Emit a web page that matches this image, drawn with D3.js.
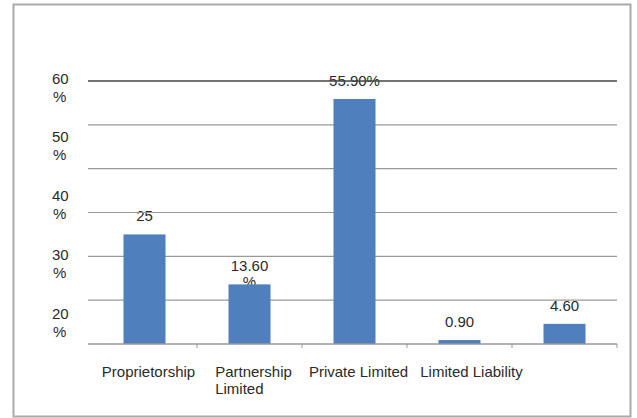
<!DOCTYPE html>
<html>
<head>
<meta charset="utf-8">
<script src="https://cdn.jsdelivr.net/npm/d3@7"></script>
<style>
  body { margin: 0; background: #fff; }
  svg text { font-family: "Liberation Sans", Arial, sans-serif; fill: #2a2a2a; }
</style>
</head>
<body>
<svg id="chart" width="637" height="418"></svg>
<script>
// chart data
var categories = ["Proprietorship", "Partnership Limited", "Private Limited", "Limited Liability", ""];
var categoryLines = [["Proprietorship"], ["Partnership", "Limited"], ["Private Limited"], ["Limited Liability"], [""]];
var values = [25, 13.6, 55.9, 0.9, 4.6];
var valueLabels = [["25"], ["13.60", "%"], ["55.90%"], ["0.90"], ["4.60"]];
var gridTicks = [0, 10, 20, 30, 40, 50, 60];
var yTickLabels = ["60", "50", "40", "30", "20"];

var svg = d3.select("#chart");

// outer frame
svg.append("rect")
  .attr("x", 13.5).attr("y", 4.5)
  .attr("width", 617).attr("height", 412)
  .attr("fill", "#fff")
  .attr("stroke", "#aaa")
  .attr("stroke-width", 2);

var x = d3.scaleBand()
  .domain(categories)
  .range([92, 617])
  .paddingInner(0.6)
  .paddingOuter(0.3);

var y = d3.scaleLinear()
  .domain([0, 60])
  .range([344, 81]);

// the y labels don't sit on the gridlines in the original, they're spread on their own
var yLab = d3.scalePoint()
  .domain(yTickLabels)
  .range([78, 313]);

var fs = 15;

// y labels, wrapped as "60" / "%"
var yl = svg.append("g").selectAll("text")
  .data(yTickLabels)
  .enter().append("text")
  .attr("x", 52)
  .attr("y", function(d){ return yLab(d) + 5.5; })
  .attr("font-size", fs);
yl.append("tspan").attr("x", 52).text(function(d){ return d; });
yl.append("tspan").attr("x", 53).attr("dy", 18).text("%");

// value labels (drawn before grid + bars, bars cover the "%" like the original)
var vl = svg.append("g").selectAll("text")
  .data(values)
  .enter().append("text")
  .attr("text-anchor", "middle")
  .attr("font-size", fs)
  .attr("y", function(d){ return y(d) - 13; });
vl.each(function(d, i){
  var t = d3.select(this);
  var cx = x(categories[i]) + x.bandwidth() / 2;
  valueLabels[i].forEach(function(line, j){
    t.append("tspan").attr("x", cx).attr("dy", j ? 16 : 0).text(line);
  });
});

// gridlines
svg.append("g").selectAll("line")
  .data(gridTicks.filter(function(d){ return d > 0; }))
  .enter().append("line")
  .attr("x1", 88).attr("x2", 617)
  .attr("y1", function(d){ return y(d); })
  .attr("y2", function(d){ return y(d); })
  .attr("stroke", function(d){ return d == 60 ? "#444" : "#999"; })
  .attr("stroke-width", function(d){ return d == 60 ? 1.5 : 1.2; });

// bars
svg.append("g").selectAll("rect")
  .data(values)
  .enter().append("rect")
  .attr("x", function(d, i){ return x(categories[i]); })
  .attr("y", function(d){ return y(d); })
  .attr("width", x.bandwidth())
  .attr("height", function(d){ return y(0) - y(d); })
  .attr("fill", "#4f7fbd");

// x axis line + ticks
svg.append("line")
  .attr("x1", 88).attr("x2", 617)
  .attr("y1", y(0)).attr("y2", y(0))
  .attr("stroke", "#999").attr("stroke-width", 1.5);

var step = x.step();
svg.append("g").selectAll("line")
  .data(categories)
  .enter().append("line")
  .attr("x1", function(d){ return x(d) + x.bandwidth() + step * 0.3; })
  .attr("x2", function(d){ return x(d) + x.bandwidth() + step * 0.3; })
  .attr("y1", y(0)).attr("y2", y(0) + 4)
  .attr("stroke", "#999");

// category labels, multi-line ones left aligned under first line
var xl = svg.append("g").selectAll("text")
  .data(categories)
  .enter().append("text")
  .attr("font-size", fs)
  .attr("y", 377);
xl.each(function(d, i){
  var t = d3.select(this);
  var cx = x(d) + x.bandwidth() / 2 + 4 + (i == 3 ? 8 : 0);
  categoryLines[i].forEach(function(line, j){
    t.append("tspan").attr("dy", j ? 17 : 0).text(line);
  });
  var w = t.select("tspan").node().getComputedTextLength();
  t.selectAll("tspan").attr("x", cx - w / 2);
});
</script>
</body>
</html>
